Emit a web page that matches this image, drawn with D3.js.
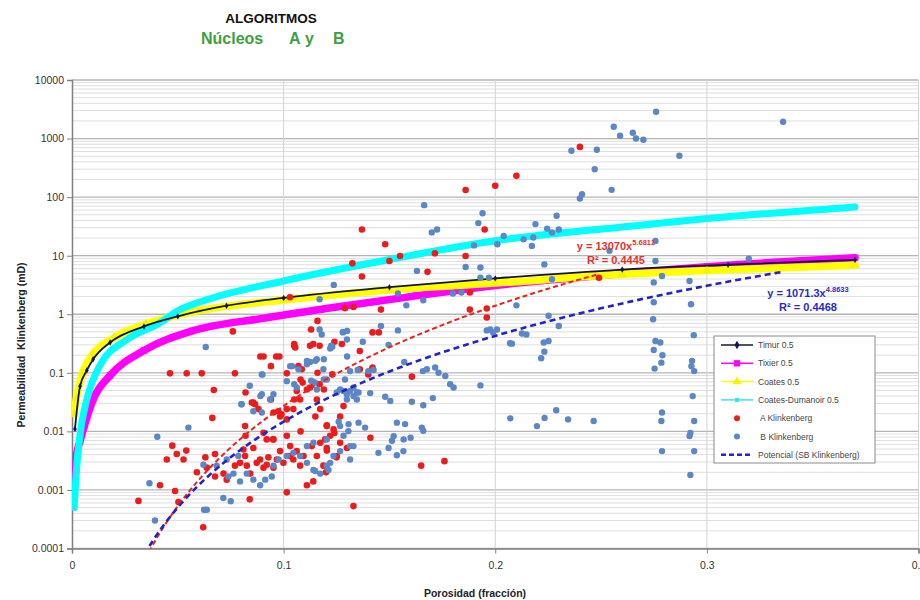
<!DOCTYPE html>
<html>
<head>
<meta charset="utf-8">
<script src="https://cdn.jsdelivr.net/npm/d3@7"></script>
<style>
  body { margin: 0; background: #fff; }
  text { font-family: "Liberation Sans", Arial, sans-serif; }
</style>
</head>
<body>
<svg id="chart" width="920" height="600"></svg>
<script>
// ---------- data ----------
const xTicks = [0, 0.1, 0.2, 0.3, 0.4];
const xTickLabels = ["0", "0.1", "0.2", "0.3", "0.4"];
const yTicks = [0.0001, 0.001, 0.01, 0.1, 1, 10, 100, 1000, 10000];
const yTickLabels = ["0.0001", "0.001", "0.01", "0.1", "1", "10", "100", "1000", "10000"];

const seriesNames = ["Timur 0.5", "Tixier 0.5", "Coates 0.5", "Coates-Dumanoir 0.5",
  " A Klinkenberg", " B Klinkenberg", "Potencial (SB Klinkenberg)"];

// model curves: porosity (fraction) and permeability (mD)
const timurPor = [0.0014, 0.0038, 0.007, 0.010, 0.018, 0.034, 0.05, 0.073, 0.1, 0.15, 0.2, 0.26, 0.31, 0.37];
const timurK   = [0.011, 0.059, 0.11, 0.17, 0.33, 0.62, 0.92, 1.4, 1.9, 2.9, 4.1, 5.8, 7.0, 8.5];

const tixierPor = [0.0014, 0.0022, 0.0038, 0.006, 0.01, 0.018, 0.034, 0.057, 0.09, 0.12, 0.16, 0.2, 0.25, 0.3, 0.37];
const tixierK   = [0.0013, 0.004, 0.0068, 0.013, 0.035, 0.09, 0.24, 0.52, 0.85, 1.25, 2.0, 3.1, 4.6, 6.5, 9.2];

const coatesPor = [0.001, 0.002, 0.005, 0.01, 0.02, 0.035, 0.06, 0.1, 0.15, 0.2, 0.26, 0.3, 0.37];
const coatesK   = [0.02, 0.036, 0.1, 0.21, 0.4, 0.68, 1.15, 1.75, 2.6, 3.4, 4.8, 5.6, 6.9];

const cdPor = [0.001, 0.002, 0.004, 0.007, 0.013, 0.026, 0.042, 0.05, 0.06, 0.1, 0.15, 0.2, 0.26, 0.3, 0.37];
const cdK   = [0.0005, 0.002, 0.01, 0.035, 0.13, 0.37, 0.73, 1.15, 1.6, 3.7, 8.6, 18, 31, 43, 68];

// core measurements [porosity, Klinkenberg permeability]
const klinkA = [
  [0.186,132],[0.200,156],[0.210,231],[0.240,720],[0.137,28],[0.148,15.7],[0.195,28],[0.1325,7.4],
  [0.150,8.1],[0.155,9.9],[0.1715,11],[0.186,9.9],[0.137,4.4],[0.168,5.3],[0.103,1.95],[0.188,2.35],
  [0.129,1.27],[0.133,1.33],[0.146,1.2],[0.188,1.2],[0.196,0.88],[0.196,1.25],[0.076,0.51],[0.116,0.77],
  [0.113,0.55],[0.142,0.49],[0.145,0.49],[0.105,0.31],[0.114,0.31],[0.124,0.34],[0.1275,0.31],[0.249,4.2],
  [0.105,0.29],[0.1055,0.27],[0.1125,0.29],[0.117,0.29],[0.136,0.236],
  [0.089,0.19],[0.0905,0.19],[0.0965,0.19],[0.098,0.19],
  [0.0463,0.098],[0.0542,0.098],[0.0613,0.098],[0.077,0.098],
  [0.094,0.13],[0.107,0.13],[0.1086,0.115],[0.116,0.1],[0.1015,0.098],[0.123,0.094],[0.136,0.115],
  [0.142,0.123],[0.140,0.094],[0.082,0.046],[0.108,0.077],[0.109,0.068],[0.1125,0.056],[0.117,0.064],
  [0.119,0.052],[0.1606,0.086],[0.105,0.035],[0.094,0.035],[0.0865,0.029],[0.085,0.031],[0.0975,0.022],
  [0.1015,0.024],[0.099,0.0196],[0.115,0.018],[0.1204,0.0127],[0.108,0.01],[0.1015,0.0084],[0.092,0.0073],
  [0.095,0.0073],[0.082,0.0084],[0.0857,0.0052],[0.081,0.0049],[0.103,0.0038],[0.1196,0.0073],
  [0.1204,0.0047],[0.124,0.0094],[0.125,0.0036],[0.141,0.0078],[0.165,0.0026],[0.176,0.0031],[0.12,0.002],
  [0.067,0.051],[0.0663,0.017],
  [0.0474,0.0057],[0.0448,0.0033],[0.0495,0.0041],[0.054,0.0047],[0.0527,0.0033],[0.063,0.0036],
  [0.0676,0.0041],[0.0416,0.0012],[0.0314,0.00065],[0.0487,0.00096],[0.0503,0.00062],[0.062,0.00023],
  [0.059,0.002],[0.0637,0.0024],[0.084,0.00069],[0.1015,0.00091],[0.111,0.0012],[0.114,0.0014],[0.133,0.00053],
  [0.0676,0.0017],[0.0716,0.0019],[0.0731,0.0015],[0.077,0.0026],[0.0794,0.0029],[0.0818,0.0038],
  [0.0826,0.0026],[0.0842,0.0019],[0.0873,0.0029],[0.0889,0.0033],[0.0905,0.0024],[0.092,0.0027],
  [0.0928,0.0036],[0.0952,0.0024],[0.0968,0.0033],[0.0983,0.0046],[0.0999,0.0029],[0.1023,0.0038],
  [0.1031,0.0056],[0.1046,0.0033],[0.1062,0.0046],[0.1078,0.0026],[0.1094,0.0038],[0.1133,0.0056],
  [0.1157,0.0038],[0.1173,0.0064],[0.1188,0.0026],[0.1204,0.0052],[0.122,0.0084],[0.1251,0.0038],
  [0.1267,0.0064],[0.1299,0.0052],
  [0.0881,0.024],[0.0952,0.021],[0.0983,0.018],[0.1015,0.016],[0.1046,0.024],[0.1078,0.035],
  [0.1062,0.049],[0.111,0.052],[0.1141,0.068],[0.1157,0.035],[0.1173,0.024],[0.1204,0.0123],
  [0.1236,0.0108],[0.1267,0.018],[0.1283,0.027],[0.1299,0.046],[0.0857,0.031],[0.0818,0.0123],
  [0.0905,0.0095],[0.0952,0.0073]
];

const klinkB = [
  [0.276,2870],[0.336,1940],[0.256,1590],[0.259,1120],[0.265,1260],[0.2665,1000],[0.270,955],[0.287,508],
  [0.236,620],[0.248,645],[0.247,300],[0.255,133],[0.240,95],[0.241,112],[0.229,48],[0.2245,29],
  [0.2268,25],[0.230,28],[0.2232,7.1],[0.254,12.1],[0.2757,8.1],[0.2757,17.9],[0.3198,8.9],[0.2268,3.97],
  [0.2749,3.5],[0.2788,4.5],[0.2918,3.7],
  [0.1664,73],[0.170,25],[0.1725,28],[0.194,53],[0.192,36],[0.190,15],[0.204,21.7],[0.201,15.7],
  [0.2134,19],[0.218,20.5],[0.219,34.6],[0.2173,14.7],
  [0.163,5.5],[0.186,6.4],[0.193,6.3],[0.193,4.2],[0.197,4.2],[0.1237,3.17],[0.117,1.8],[0.154,2.26],
  [0.166,1.73],[0.158,1.42],[0.180,2.26],[0.184,2.35],[0.210,1.42],[0.2252,0.94],[0.230,0.63],
  [0.2008,0.55],[0.199,0.49],[0.1976,0.55],[0.2126,0.47],[0.2147,0.45],[0.2229,0.33],[0.2252,0.35],
  [0.207,0.32],[0.117,0.55],[0.118,0.45],[0.128,0.5],[0.146,0.63],[0.154,0.53],[0.1374,0.34],
  [0.1496,0.3],[0.1225,0.29],[0.0632,0.276],
  [0.2749,1.6],[0.2746,0.82],[0.2925,1.48],[0.2079,0.315],[0.2232,0.23],[0.2217,0.177],[0.196,0.53],
  [0.193,0.061],[0.2757,0.35],[0.278,0.33],[0.2749,0.245],[0.279,0.2],[0.2785,0.149],[0.2753,0.118],
  [0.2938,0.44],[0.293,0.16],[0.2927,0.13],[0.294,0.107],[0.2933,0.04],[0.2788,0.021],[0.2785,0.015],
  [0.2788,0.0046],[0.2922,0.0094],[0.2918,0.0083],[0.294,0.015],[0.294,0.0046],[0.2922,0.0018],
  [0.2071,0.0167],[0.2197,0.0123],[0.2233,0.017],[0.2288,0.023],[0.2344,0.016],[0.2465,0.015],
  [0.122,0.26],[0.123,0.28],[0.130,0.19],[0.115,0.16],[0.1125,0.153],[0.119,0.17],[0.111,0.14],
  [0.104,0.13],[0.107,0.115],[0.09,0.094],[0.135,0.112],[0.14,0.107],[0.1425,0.112],[0.157,0.153],
  [0.1658,0.107],[0.1677,0.115],[0.1716,0.123],[0.1732,0.1],[0.1764,0.088],[0.1787,0.064],[0.1803,0.056],
  [0.084,0.06],[0.08,0.029],[0.089,0.04],[0.105,0.064],[0.113,0.073],[0.1157,0.052],[0.119,0.077],
  [0.1251,0.046],[0.1267,0.052],[0.1283,0.049],[0.1299,0.043],[0.1314,0.049],[0.133,0.04],[0.1346,0.046],
  [0.1409,0.045],[0.148,0.039],[0.1504,0.033],[0.1606,0.032],[0.166,0.028],[0.1705,0.037],[0.126,0.0146],
  [0.1307,0.0133],[0.1354,0.0141],[0.1385,0.0116],[0.1535,0.0141],[0.1574,0.0133],[0.1653,0.0116],
  [0.166,0.0102],[0.152,0.0083],[0.1567,0.0073],[0.16,0.0078],[0.1512,0.0069],[0.1448,0.0043],
  [0.1496,0.0052],[0.1535,0.0039],[0.1566,0.0046],[0.1314,0.0056],[0.122,0.0029],[0.1212,0.0022],[0.1149,0.0021],
  [0.055,0.0116],[0.0403,0.0081],[0.0366,0.0013],[0.0392,0.0003],[0.0624,0.00046],[0.0637,0.00046],
  [0.0715,0.00073],[0.075,0.00064],[0.0802,0.029],[0.0897,0.094],[0.0897,0.043],[0.0857,0.022],
  [0.0897,0.021],[0.0936,0.035],[0.0952,0.043],
  [0.1031,0.13],[0.1015,0.072],[0.1062,0.056],[0.111,0.16],[0.1157,0.17],[0.1188,0.115],[0.1204,0.077],
  [0.1149,0.068],[0.128,0.49],[0.1299,0.37],[0.13,0.52],
  [0.0621,0.0027],[0.0684,0.0026],[0.0731,0.0033],[0.0786,0.0038],[0.0739,0.0017],[0.0763,0.0019],
  [0.0794,0.0014],[0.0826,0.0019],[0.0857,0.0015],[0.0889,0.0012],[0.0913,0.0015],[0.0944,0.0017],
  [0.0952,0.0026],[0.0976,0.0033],[0.1015,0.0038],[0.1046,0.0043],[0.1078,0.0038],[0.111,0.0056],
  [0.1141,0.0064],[0.111,0.0029],[0.1141,0.0022],[0.1173,0.0019],[0.1204,0.0026],[0.1236,0.0038],
  [0.1267,0.0046],[0.1314,0.0033],[0.133,0.0056],[0.1283,0.0084],[0.1306,0.0101],[0.1267,0.0123],
  [0.1204,0.0073],
  [0.129,0.077],[0.1314,0.107],[0.133,0.056],[0.1346,0.035],[0.1354,0.046],[0.1299,0.035]
];

// power-law fits y = coef * x^exp
const fitA = { coef: 13070, exp: 5.6812, r2: 0.4445 };
const fitB = { coef: 1071.3, exp: 4.8633, r2: 0.4468 };

// ---------- layout ----------
const W = 920, H = 600;
const plot = { left: 72, right: 918.5, top: 80, bottom: 548.5 };

const x = d3.scaleLinear().domain([0, 0.4]).range([plot.left, plot.right]);
const y = d3.scaleLog().domain([0.0001, 10000]).range([plot.bottom, plot.top]);

const svg = d3.select("#chart");
svg.append("rect").attr("width", W).attr("height", H).attr("fill", "#fff");

svg.append("defs").append("clipPath").attr("id", "plotClip")
  .append("rect")
  .attr("x", plot.left).attr("y", plot.top)
  .attr("width", plot.right - plot.left).attr("height", plot.bottom - plot.top);

// grid: minor and major horizontal lines, vertical lines at x ticks
const grid = svg.append("g");
grid.selectAll("line.minor").data(y.ticks().filter(d => !yTicks.includes(d)))
  .join("line").attr("class", "minor")
  .attr("x1", plot.left).attr("x2", plot.right)
  .attr("y1", d => y(d)).attr("y2", d => y(d))
  .attr("stroke", "#dedede").attr("stroke-width", 1);
grid.selectAll("line.major").data(yTicks)
  .join("line").attr("class", "major")
  .attr("x1", plot.left).attr("x2", plot.right)
  .attr("y1", d => y(d)).attr("y2", d => y(d))
  .attr("stroke", "#b4b4b4").attr("stroke-width", 1.3);
grid.selectAll("line.vert").data(xTicks.slice(1))
  .join("line").attr("class", "vert")
  .attr("x1", d => x(d)).attr("x2", d => x(d))
  .attr("y1", plot.top).attr("y2", plot.bottom)
  .attr("stroke", "#d2d2d2").attr("stroke-width", 1);

// axes
const yAxis = svg.append("g").attr("transform", `translate(${plot.left},0)`)
  .call(d3.axisLeft(y).tickValues(yTicks).tickFormat((d, i) => yTickLabels[i]).tickSize(5).tickPadding(3));
const xAxis = svg.append("g").attr("transform", `translate(0,${plot.bottom})`)
  .call(d3.axisBottom(x).tickValues(xTicks).tickFormat((d, i) => xTickLabels[i]).tickSize(5).tickPadding(8));
[yAxis, xAxis].forEach(g => {
  g.select(".domain").attr("stroke", "#808080").attr("stroke-width", 1.5);
  g.selectAll(".tick line").attr("stroke", "#808080");
  g.selectAll(".tick text").attr("fill", "#333").attr("font-size", 10.5)
    .attr("font-family", "'Liberation Sans', Arial, sans-serif");
});

// ---------- series ----------
const layer = svg.append("g").attr("clip-path", "url(#plotClip)");
const lineGen = d3.line().x(d => x(d[0])).y(d => y(d[1])).curve(d3.curveMonotoneX);

function zip(a, b) { return a.map((v, i) => [v, b[i]]); }

const curves = [
  { name: seriesNames[1], pts: zip(tixierPor, tixierK), color: "#ff00ff", width: 7.5, sym: d3.symbolSquare, size: 40, mk: "#ff00ff" },
  { name: seriesNames[2], pts: zip(coatesPor, coatesK), color: "#ffff00", width: 7.5, sym: d3.symbolTriangle, size: 40, mk: "#f4f400" },
  { name: seriesNames[3], pts: zip(cdPor, cdK), color: "#00ffff", width: 7, sym: d3.symbolSquare, size: 18, mk: "#33e6ee" },
  { name: seriesNames[0], pts: zip(timurPor, timurK), color: "#141438", width: 1.8, sym: d3.symbolDiamond, size: 12, mk: "#12125a" }
];

curves.forEach(c => {
  layer.append("path").datum(c.pts)
    .attr("d", lineGen).attr("fill", "none")
    .attr("stroke", c.color).attr("stroke-width", c.width)
    .attr("stroke-linejoin", "round").attr("stroke-linecap", "round");
  layer.append("g").selectAll("path").data(c.pts).join("path")
    .attr("transform", d => `translate(${x(d[0])},${y(d[1])})`)
    .attr("d", d3.symbol().type(c.sym).size(c.size))
    .attr("fill", c.mk);
});

// measured points
layer.append("g").selectAll("circle").data(klinkA).join("circle")
  .attr("cx", d => x(d[0])).attr("cy", d => y(d[1])).attr("r", 3.3)
  .attr("fill", "#ec1c1c");
layer.append("g").selectAll("circle").data(klinkB).join("circle")
  .attr("cx", d => x(d[0])).attr("cy", d => y(d[1])).attr("r", 3.2)
  .attr("fill", "#5b87c6");

// power trend lines across each sample's porosity range
function trendPoints(fit, samples) {
  const [lo, hi] = d3.extent(samples, d => d[0]);
  return d3.range(0, 81).map(i => {
    const p = lo + (hi - lo) * i / 80;
    return [p, fit.coef * Math.pow(p, fit.exp)];
  });
}
const trendLine = d3.line().x(d => x(d[0])).y(d => y(d[1]));
layer.append("path").datum(trendPoints(fitA, klinkA))
  .attr("d", trendLine).attr("fill", "none")
  .attr("stroke", "#e8231e").attr("stroke-width", 2).attr("stroke-dasharray", "5,3");
layer.append("path").datum(trendPoints(fitB, klinkB))
  .attr("d", trendLine).attr("fill", "none")
  .attr("stroke", "#2323c8").attr("stroke-width", 2.6).attr("stroke-dasharray", "6,4");

// fit equations
function equation(fit, cx, cy, color) {
  const t = svg.append("text").attr("x", cx).attr("y", cy).attr("text-anchor", "middle")
    .attr("font-size", 11).attr("font-weight", "bold").attr("fill", color);
  t.append("tspan").text(`y = ${fit.coef}x`);
  t.append("tspan").attr("dy", -5).attr("font-size", 7.5).text(fit.exp.toFixed(4));
  svg.append("text").attr("x", cx).attr("y", cy + 14).attr("text-anchor", "middle")
    .attr("font-size", 11).attr("font-weight", "bold").attr("fill", color)
    .text(`R² = ${fit.r2.toFixed(4)}`);
}
equation(fitA, 616, 250, "#e8302a");
equation(fitB, 808, 297, "#2a2acc");

// ---------- legend ----------
const lg = svg.append("g").attr("transform", "translate(714,336)");
lg.append("rect").attr("width", 161).attr("height", 127)
  .attr("fill", "#fff").attr("stroke", "#8a8a8a").attr("stroke-width", 1);
const legendItems = [
  { label: seriesNames[0], line: "#141438", lw: 1.5, sym: d3.symbolDiamond, size: 22, mk: "#12125a" },
  { label: seriesNames[1], line: "#ff00ff", lw: 1.5, sym: d3.symbolSquare, size: 40, mk: "#ff00ff" },
  { label: seriesNames[2], line: "#ffff00", lw: 1.5, sym: d3.symbolTriangle, size: 36, mk: "#f4f400" },
  { label: seriesNames[3], line: "#33e6ee", lw: 1.5, sym: d3.symbolSquare, size: 16, mk: "#33e6ee" },
  { label: seriesNames[4], circle: "#ec1c1c" },
  { label: seriesNames[5], circle: "#5b87c6" },
  { label: seriesNames[6], line: "#2323c8", lw: 2.4, dash: "5,3" }
];
legendItems.forEach((it, i) => {
  const g = lg.append("g").attr("transform", `translate(0,${9 + i * 18.3})`);
  if (it.line) {
    g.append("line").attr("x1", 7).attr("x2", 39).attr("y1", 0).attr("y2", 0)
      .attr("stroke", it.line).attr("stroke-width", it.lw)
      .attr("stroke-dasharray", it.dash || null);
  }
  if (it.sym) {
    g.append("path").attr("transform", "translate(23,0)")
      .attr("d", d3.symbol().type(it.sym).size(it.size)).attr("fill", it.mk);
  }
  if (it.circle) {
    g.append("circle").attr("cx", 23).attr("cy", 0).attr("r", 3).attr("fill", it.circle);
  }
  g.append("text").attr("x", 44).attr("y", 3).attr("font-size", 8.5).attr("fill", "#444")
    .attr("xml:space", "preserve").style("white-space", "pre").text(it.label);
});

// ---------- titles ----------
svg.append("text").attr("x", 271).attr("y", 23).attr("text-anchor", "middle")
  .attr("font-size", 13.5).attr("font-weight", "bold").attr("fill", "#111").text("ALGORITMOS");
const sub = svg.append("text").attr("y", 44).attr("font-size", 16).attr("font-weight", "bold").attr("fill", "#3f9f3f");
sub.append("tspan").attr("x", 201).text("Núcleos");
sub.append("tspan").attr("x", 289).text("A");
sub.append("tspan").attr("x", 305).text("y");
sub.append("tspan").attr("x", 333).text("B");

svg.append("text").attr("x", 475).attr("y", 597).attr("text-anchor", "middle")
  .attr("font-size", 10.5).attr("font-weight", "bold").attr("fill", "#222").text("Porosidad (fracción)");
svg.append("text").attr("transform", "translate(25,345) rotate(-90)").attr("text-anchor", "middle")
  .attr("font-size", 10.5).attr("font-weight", "bold").attr("fill", "#222")
  .attr("xml:space", "preserve").style("white-space", "pre").text("Permeabilidad  Klinkenberg (mD)");
</script>
</body>
</html>
